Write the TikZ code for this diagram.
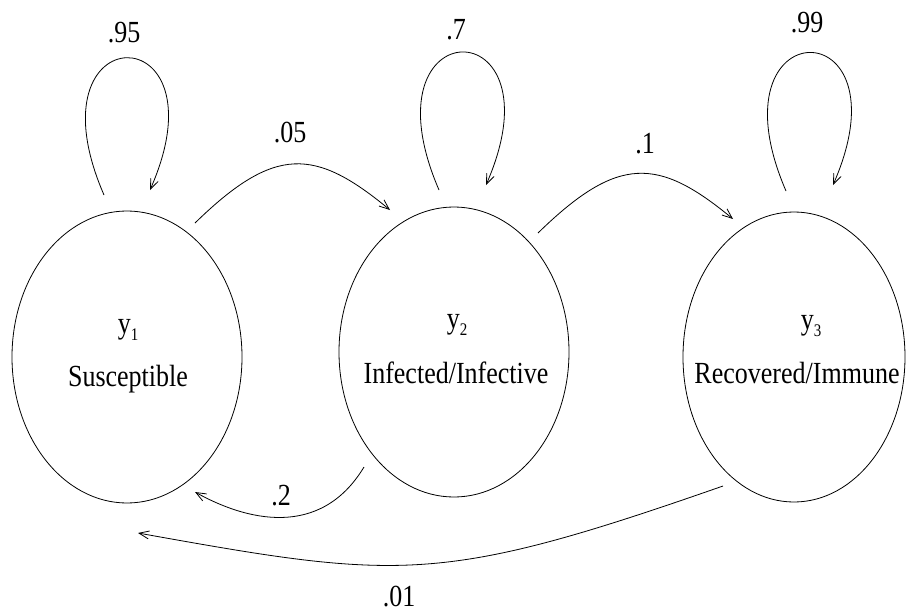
\documentclass[tikz,border=0pt]{standalone}
\usepackage{fontspec}
\setmainfont{Liberation Serif}
\usetikzlibrary{shapes.geometric,arrows.meta}
\newcommand{\tall}[1]{\scalebox{1}[1.18]{#1}}
\newcommand{\ysub}[1]{\tall{y\raisebox{-6pt}{\fontsize{15}{15}\selectfont #1}}}
\begin{document}
\begin{tikzpicture}[x=1pt,y=-1pt,line width=0.8pt,
  >={Straight Barb[length=10pt,width=8pt]},
  state/.style={draw,ellipse,inner sep=0pt},
  txt/.style={anchor=base,inner sep=0pt,font=\fontsize{26}{30}\selectfont},
  prob/.style={inner sep=0pt,font=\fontsize{26}{30}\selectfont}]
  \useasboundingbox (0,0) rectangle (906,613);

  \node[state,minimum width=230pt,minimum height=292pt] (s1) at (127,357) {};
  \node[state,minimum width=230pt,minimum height=290pt] (s2) at (454,352) {};
  \node[state,minimum width=222pt,minimum height=290pt] (s3) at (794,357) {};

  \node[txt] (y1) at ([shift={(1,-24)}]s1.center) {\ysub{1}};
  \node[txt] (n1) at ([shift={(1,29)}]s1.center) {\tall{Susceptible}};
  \node[txt] (y2) at ([shift={(3,-24)}]s2.center) {\ysub{2}};
  \node[txt] (n2) at ([shift={(2,31)}]s2.center) {\tall{Infected/Infective}};
  \node[txt] (y3) at ([shift={(17,-28)}]s3.center) {\ysub{3}};
  \node[txt] (n3) at ([shift={(3,26)}]s3.center) {\tall{Recovered/Immune}};

  \draw[->] ([shift={(-23,-162)}]s1.center) .. controls +(-79,-182) and +(78,-177) .. ([shift={(23,-167)}]s1.center);
  \draw[->] ([shift={(-15,-162)}]s2.center) .. controls +(-79,-183) and +(78,-178) .. ([shift={(32,-167)}]s2.center);
  \draw[->] ([shift={(-8,-166)}]s3.center) .. controls +(-79,-183) and +(78,-178) .. ([shift={(39,-172)}]s3.center);

  \draw[->] ([shift={(68,-134)}]s1.center) .. controls +(80,-78) and +(-75,-62) .. ([shift={(-64,-142)}]s2.center);
  \draw[->] ([shift={(84,-119)}]s2.center) .. controls +(80,-78) and +(-75,-62) .. ([shift={(-61,-138)}]s3.center);
  \draw[->] ([shift={(-90,115)}]s2.center) .. controls +(-44,73) and +(50,28) .. ([shift={(68,135)}]s1.center);
  \draw[->] ([shift={(-71,129)}]s3.center) .. controls +(-283,99) and +(262,47) .. ([shift={(11,176)}]s1.center);

  \node[prob] (p11) at (124,33) {\tall{.95}};
  \node[prob] (p22) at (456,30) {\tall{.7}};
  \node[prob] (p33) at (807,23) {\tall{.99}};
  \node[prob] (p12) at (290,133) {\tall{.05}};
  \node[prob] (p23) at (645,144) {\tall{.1}};
  \node[prob] (p21) at (281,496) {\tall{.2}};
  \node[prob] (p31) at (399,597) {\tall{.01}};
\end{tikzpicture}
\end{document}
